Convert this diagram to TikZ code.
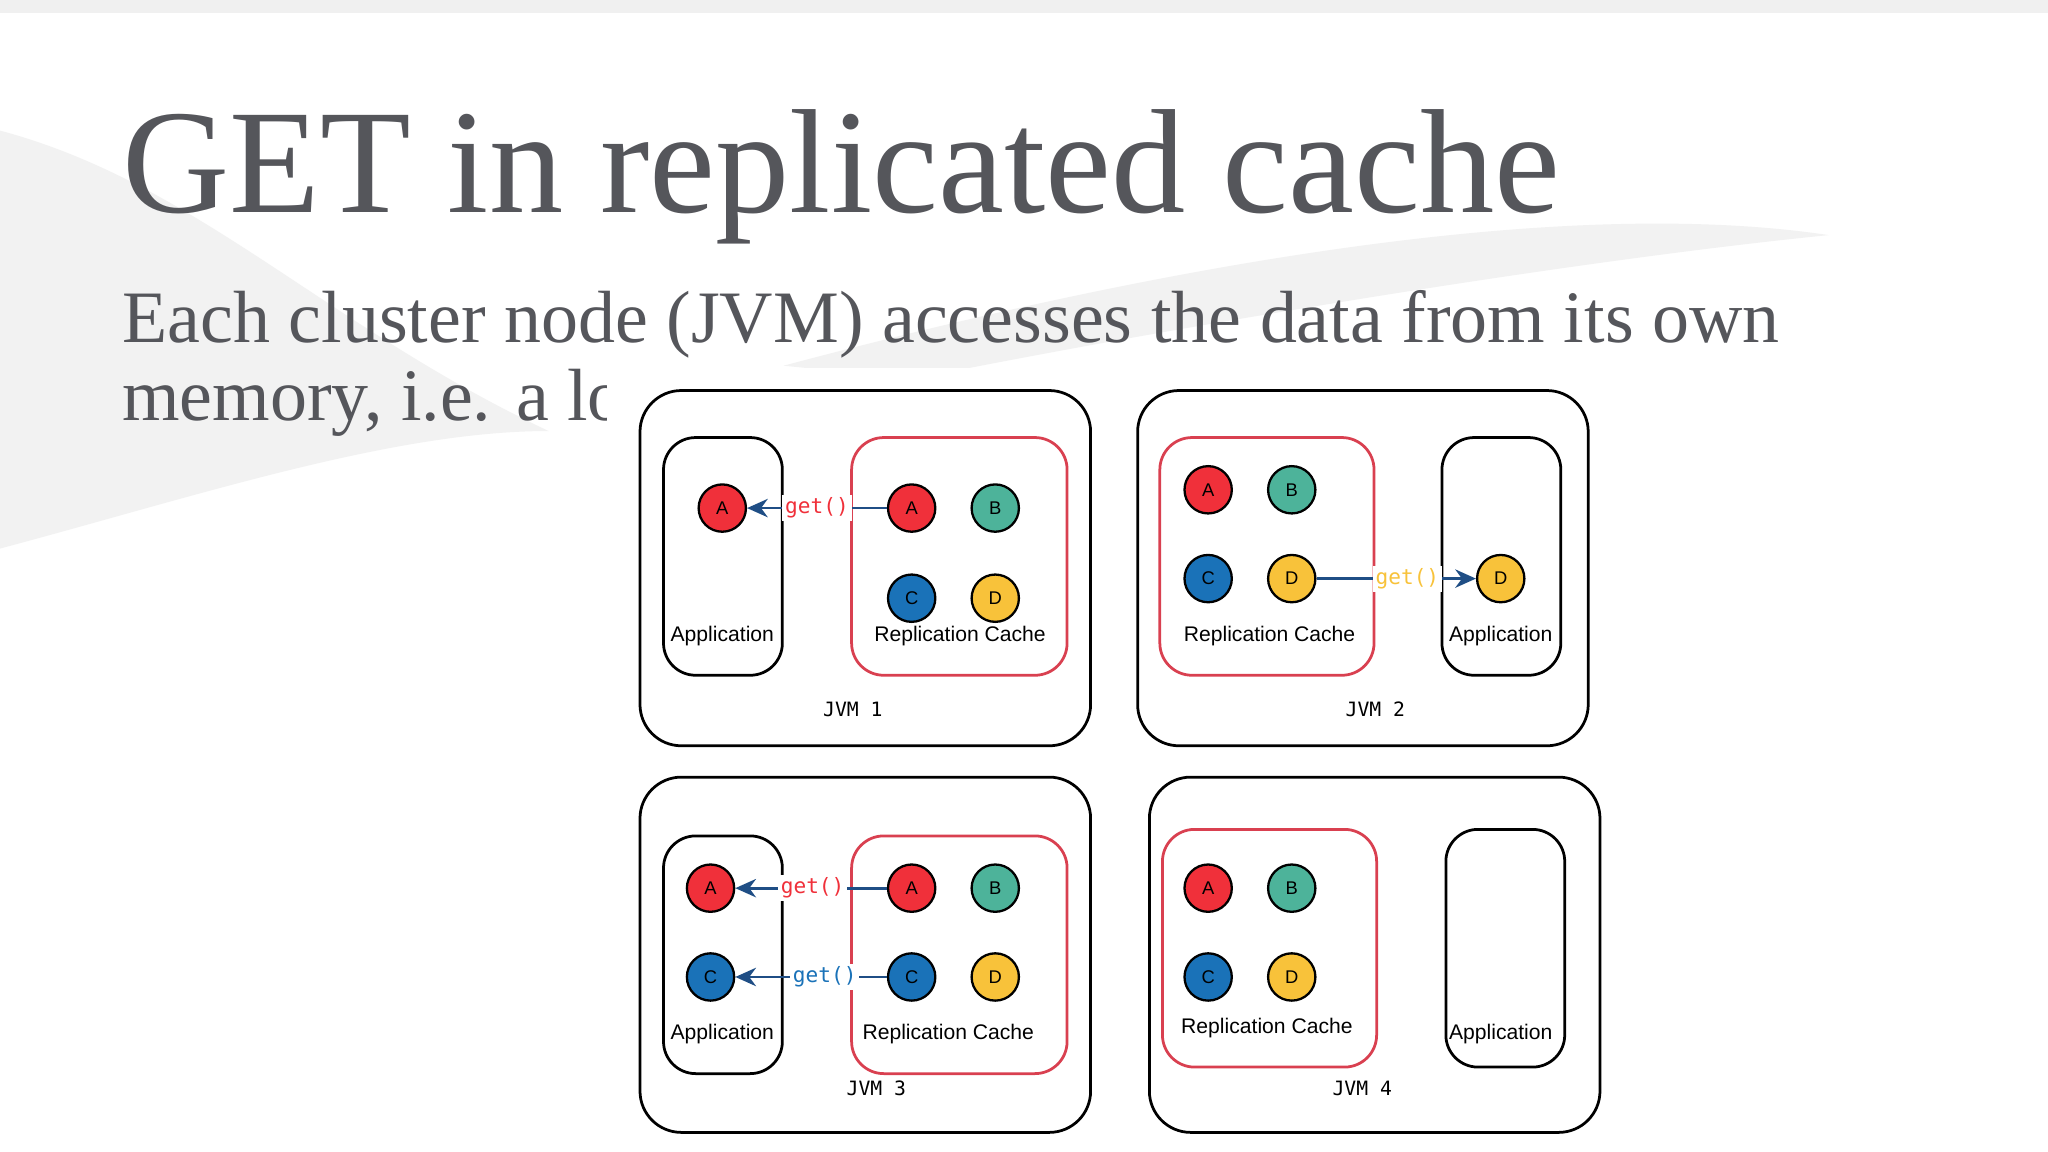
\documentclass[tikz,border=0pt]{standalone}
\usepackage{fontspec}
\setmainfont{Liberation Serif}
\newfontfamily\sansf{Liberation Sans}
\newfontfamily\monof{DejaVu Sans Mono}
\usetikzlibrary{arrows.meta}
\definecolor{cr}{HTML}{F0303A}
\definecolor{ct}{HTML}{4DB39A}
\definecolor{cb}{HTML}{1A72B8}
\definecolor{cy}{HTML}{F8C23A}
\definecolor{cache}{HTML}{D94050}
\definecolor{navy}{HTML}{1F4E85}
\definecolor{txt}{HTML}{55565B}
\begin{document}
\begin{tikzpicture}[x=0.01cm,y=-0.01cm,
  jvm/.style={draw=black,line width=0.6pt,rounded corners=9pt},
  app/.style={draw=black,line width=0.6pt,rounded corners=7pt},
  cbox/.style={draw=cache,line width=0.6pt,rounded corners=7pt},
  dot/.style={circle,draw=black,line width=0.5pt,minimum size=10.3pt,inner sep=0pt,font=\sansf\fontsize{4}{4}\selectfont},
  lbl/.style={font=\sansf\fontsize{4.6}{5}\selectfont},
  jl/.style={font=\monof\fontsize{4.3}{5}\selectfont},
  gl/.style={font=\monof\fontsize{4.6}{5}\selectfont,fill=white,inner sep=0.6pt},
  arr/.style={draw=navy,line width=0.6pt,-{Stealth[length=4.5pt,width=4pt]}}]
\useasboundingbox (0,0) rectangle (1568,882);
\fill[white] (0,0) rectangle (1568,882);
\fill[gray!12] (0,0) rectangle (1568,10);
\fill[gray!10] (0,100) .. controls (150,140) and (250,250) .. (420,330) .. controls (300,330) and (150,380) .. (0,420) -- cycle;
\fill[gray!10] (600,280) .. controls (900,200) and (1200,150) .. (1400,180) .. controls (1200,200) and (900,250) .. (700,290) -- cycle;
\node[anchor=base west,text=txt,font=\fontsize{32.3}{32}\selectfont,inner sep=0] (title) at (93,163) {GET in replicated cache};
\node[anchor=base west,text=txt,font=\fontsize{16.1}{16}\selectfont,inner sep=0] (sub1) at (93,262) {Each cluster node (JVM) accesses the data from its own};
\node[anchor=base west,text=txt,font=\fontsize{16.1}{16}\selectfont,inner sep=0] (sub2) at (93,322) {memory, i.e. a local read};
\fill[white] (465,282) rectangle (1258,882);
% JVM1
\draw[jvm] (490,299) rectangle (835,571);
\draw[app] (508,335) rectangle (599,517);
\draw[cbox] (652,335) rectangle (817,517);
\node[dot,fill=cr] (a1) at (553,389) {A};
\node[dot,fill=cr] (ra1) at (698,389) {A};
\node[dot,fill=ct] (rb1) at (762,389) {B};
\node[dot,fill=cb] (rc1) at (698,458) {C};
\node[dot,fill=cy] (rd1) at (762,458) {D};
\draw[arr] (ra1) -- (a1) node[gl,text=cr,pos=0.5] (g1) {get()};
\node[lbl] (l1a) at (553,487) {Application};
\node[lbl] (l1c) at (735,487) {Replication Cache};
\node[jl] (j1) at (653,543) {JVM 1};
% JVM2
\draw[jvm] (871,299) rectangle (1216,571);
\draw[cbox] (888,335) rectangle (1052,517);
\draw[app] (1104,335) rectangle (1195,517);
\node[dot,fill=cr] (ra2) at (925,375) {A};
\node[dot,fill=ct] (rb2) at (989,375) {B};
\node[dot,fill=cb] (rc2) at (925,443) {C};
\node[dot,fill=cy] (rd2) at (989,443) {D};
\node[dot,fill=cy] (d2) at (1149,443) {D};
\draw[arr] (rd2) -- (d2) node[gl,text=cy,pos=0.57] (g2) {get()};
\node[lbl] (l2c) at (972,487) {Replication Cache};
\node[lbl] (l2a) at (1149,487) {Application};
\node[jl] (j2) at (1053,543) {JVM 2};
% JVM3
\draw[jvm] (490,595) rectangle (835,867);
\draw[app] (508,640) rectangle (599,822);
\draw[cbox] (652,640) rectangle (817,822);
\node[dot,fill=cr] (a3) at (544,680) {A};
\node[dot,fill=cb] (c3) at (544,748) {C};
\node[dot,fill=cr] (ra3) at (698,680) {A};
\node[dot,fill=ct] (rb3) at (762,680) {B};
\node[dot,fill=cb] (rc3) at (698,748) {C};
\node[dot,fill=cy] (rd3) at (762,748) {D};
\draw[arr] (ra3) -- (a3) node[gl,text=cr,pos=0.49] (g3a) {get()};
\draw[arr] (rc3) -- (c3) node[gl,text=cb,pos=0.41] (g3c) {get()};
\node[lbl] (l3a) at (553,792) {Application};
\node[lbl] (l3c) at (726,792) {Replication Cache};
\node[jl] (j3) at (671,833) {JVM 3};
% JVM4
\draw[jvm] (880,595) rectangle (1225,867);
\draw[cbox] (890,635) rectangle (1054,817);
\draw[app] (1107,635) rectangle (1198,817);
\node[dot,fill=cr] (ra4) at (925,680) {A};
\node[dot,fill=ct] (rb4) at (989,680) {B};
\node[dot,fill=cb] (rc4) at (925,748) {C};
\node[dot,fill=cy] (rd4) at (989,748) {D};
\node[lbl] (l4c) at (970,787) {Replication Cache};
\node[lbl] (l4a) at (1149,792) {Application};
\node[jl] (j4) at (1043,833) {JVM 4};
\end{tikzpicture}
\end{document}
